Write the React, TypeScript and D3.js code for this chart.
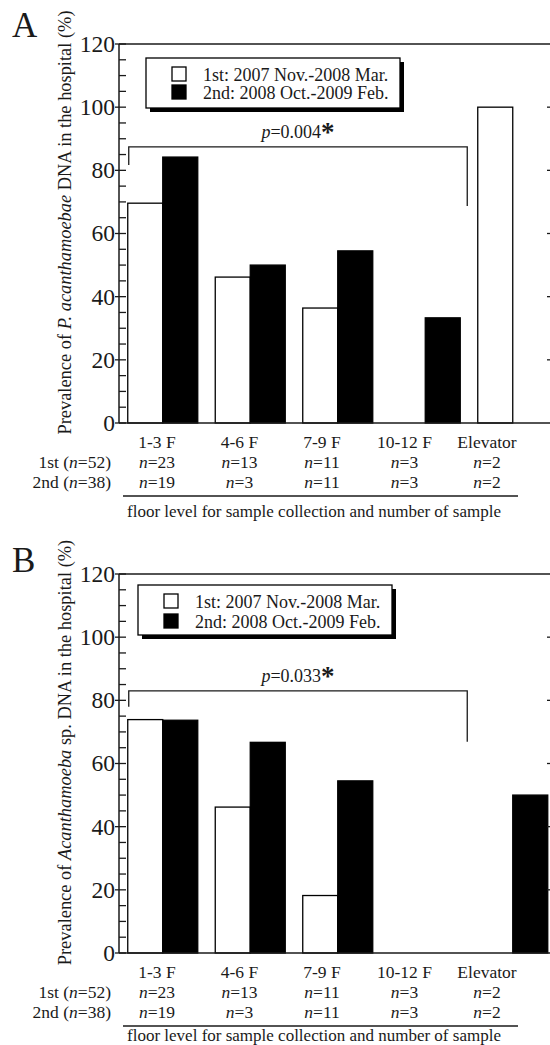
import React from 'react';
import * as d3 from 'd3';

// categories and labels
const floors = ['1-3 F', '4-6 F', '7-9 F', '10-12 F', 'Elevator'];
const surveys = ['1st', '2nd'];
const legendLabels = ['1st: 2007 Nov.-2008 Mar.', '2nd: 2008 Oct.-2009 Feb.'];
const nFirst = [23, 13, 11, 3, 2];
const nSecond = [19, 3, 11, 3, 2];
const rowLabels = [['1st', 52], ['2nd', 38]];
const yTicks = [0, 20, 40, 60, 80, 100, 120];
const yMinor = d3.range(0, 121, 5);

// prevalence (%) per floor
const prevA1 = [69.6, 46.2, 36.4, 0, 100];
const prevA2 = [84.2, 50, 54.5, 33.3, 0];
const prevB1 = [73.9, 46.2, 18.2, 0, 0];
const prevB2 = [73.7, 66.7, 54.5, 0, 50];

// significance brackets: [bar level, left drop, right drop]
const bracketA = [87.4, 81.7, 68.7];
const bracketB = [83.0, 78.0, 66.9];
const pA = '0.004';
const pB = '0.033';

const FONT = '"Liberation Serif", "Times New Roman", serif';
const INK = '#1a1a1a';

const y = d3.scaleLinear().domain([0, 120]).range([423, 44]);
const x0 = d3.scaleBand().domain(floors).range([119, 556.5]).paddingInner(0.2).paddingOuter(0.1);
const x1 = d3.scaleBand().domain(surveys).range([0, x0.bandwidth()]);
const xLabel = d3.scalePoint().domain(floors).range([157, 487]);

function Panel({ dy, letter, letterY, title, first, second, bracket, p, legendX, legendY, legendGap, titleY }) {
  const series = [first, second];
  const bx0 = x0(floors[0]) + 1;
  const bx1 = x0(floors[3]) + x0.bandwidth() + 7;
  const bmid = (bx0 + bx1) / 2;
  return (
    <g transform={`translate(0,${dy})`} fontFamily={FONT} fill={INK}>
      <text x={12} y={letterY} fontSize={35}>{letter}</text>

      {/* bars */}
      {floors.map((f, i) =>
        surveys.map((s, j) => {
          const v = series[j][i];
          if (!v) return null;
          return (
            <rect key={f + s} x={x0(f) + x1(s)} y={y(v)} width={x1.bandwidth()} height={y(0) - y(v)}
              fill={j === 0 ? '#fff' : '#000'} stroke="#000" strokeWidth={1.3} />
          );
        })
      )}

      {/* frame */}
      <line x1={119} x2={x0.range()[1]} y1={y(120)} y2={y(120)} stroke={INK} strokeWidth={1.5} />
      <line x1={119} x2={x0.range()[1]} y1={y(0)} y2={y(0)} stroke={INK} strokeWidth={1.5} />
      <line x1={119} x2={119} y1={y(0)} y2={y(120)} stroke={INK} strokeWidth={1.5} />
      {yMinor.map(t => (
        <line key={'m' + t} x1={t % 20 === 0 ? 115 : 119} x2={126} y1={y(t)} y2={y(t)} stroke={INK} strokeWidth={1.3} />
      ))}
      {yTicks.slice(1, -1).map(t => (
        <line key={'r' + t} x1={547} x2={556} y1={y(t)} y2={y(t)} stroke={INK} strokeWidth={1.3} />
      ))}
      {yTicks.map(t => (
        <text key={'t' + t} x={115} y={y(t)} dy="0.34em" fontSize={23.5} textAnchor="end">{t}</text>
      ))}

      {/* y title */}
      <text transform={`translate(71,${(y(0) + y(120)) / 2 - 11}) rotate(-90)`} fontSize={18.4} textAnchor="middle">
        {title.map((part, k) => (
          <tspan key={k} fontStyle={k === 1 ? 'italic' : 'normal'}>{part}</tspan>
        ))}
      </text>

      {/* legend */}
      <rect x={legendX + 4} y={legendY + 4} width={254} height={50} fill="#000" />
      <rect x={legendX} y={legendY} width={254} height={50} fill="#fff" stroke="#000" strokeWidth={1.3} />
      {legendLabels.map((l, k) => (
        <g key={l}>
          <rect x={legendX + 26} y={legendY + 9 + k * legendGap} width={14} height={14}
            fill={k === 0 ? '#fff' : '#000'} stroke="#000" strokeWidth={1.3} />
          <text x={legendX + 57} y={legendY + 23 + k * legendGap} fontSize={18}>{l}</text>
        </g>
      ))}

      {/* significance bracket */}
      <path d={`M${bx0},${y(bracket[1])}V${y(bracket[0])}H${bx1}V${y(bracket[2])}`} fill="none" stroke={INK} strokeWidth={1.3} />
      <text x={bmid} y={y(bracket[0]) - 9} fontSize={18} textAnchor="middle">
        <tspan fontStyle="italic">p</tspan>={p}
        <tspan fontSize={27} fontWeight="bold" dy={3}>*</tspan>
      </text>

      {/* category rows */}
      {floors.map((f, i) => (
        <g key={'c' + f} textAnchor="middle" fontSize={17.5}>
          <text x={xLabel(f)} y={448}>{f}</text>
          <text x={xLabel(f)} y={467.5}><tspan fontStyle="italic">n</tspan>={nFirst[i]}</text>
          <text x={xLabel(f)} y={487.5}><tspan fontStyle="italic">n</tspan>={nSecond[i]}</text>
        </g>
      ))}
      {rowLabels.map((r, k) => (
        <text key={'row' + k} x={111} y={467.5 + k * 20} fontSize={17.5} textAnchor="end">
          {r[0]} (<tspan fontStyle="italic">n</tspan>={r[1]})
        </text>
      ))}
      <line x1={123} x2={518} y1={496} y2={496} stroke={INK} strokeWidth={1.5} />
      <text x={314} y={titleY} fontSize={17} textAnchor="middle">floor level for sample collection and number of sample</text>
    </g>
  );
}

export default function App() {
  return (
    <div>
      <style>{'body{margin:0}'}</style>
      <svg width={550} height={1045} style={{ display: 'block', background: '#fff' }}>
        <Panel dy={0} letter="A" letterY={37} titleY={517}
          title={['Prevalence of ', 'P. acanthamoebae', ' DNA in the hospital (%)']}
          first={prevA1} second={prevA2} bracket={bracketA} p={pA}
          legendX={146} legendY={58} legendGap={18} />
        <Panel dy={530} letter="B" letterY={42} titleY={511}
          title={['Prevalence of ', 'Acanthamoeba', ' sp. DNA in the hospital (%)']}
          first={prevB1} second={prevB2} bracket={bracketB} p={pB}
          legendX={138} legendY={55} legendGap={20} />
      </svg>
    </div>
  );
}
